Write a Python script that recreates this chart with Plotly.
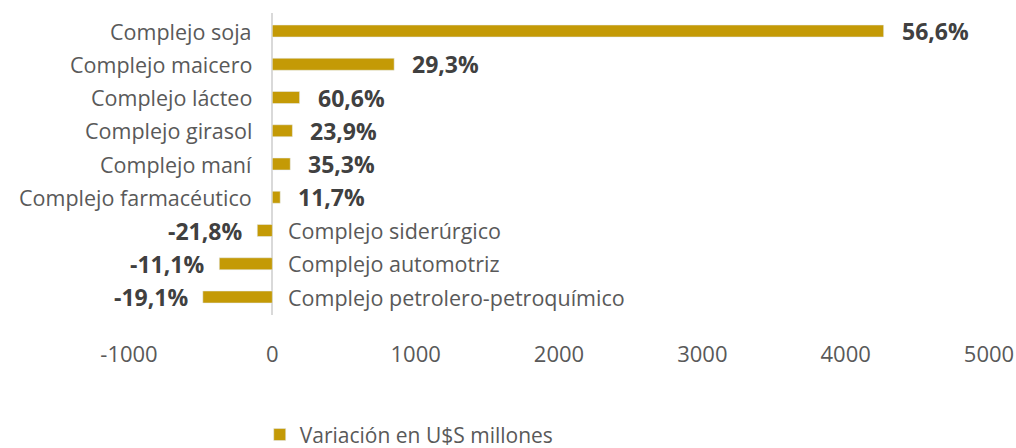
import plotly.graph_objects as go

categorias = ["Complejo soja", "Complejo maicero", "Complejo lácteo", "Complejo girasol",
              "Complejo maní", "Complejo farmacéutico", "Complejo siderúrgico",
              "Complejo automotriz", "Complejo petrolero-petroquímico"]
variacion = [4265, 850, 190, 140, 125, 55, -105, -370, -485]
etiquetas = ["56,6%", "29,3%", "60,6%", "23,9%", "35,3%", "11,7%", "-21,8%", "-11,1%", "-19,1%"]
ticks = [-1000, 0, 1000, 2000, 3000, 4000, 5000]

oro = "#C49A06"
fuente = "Open Sans"

fig = go.Figure()
fig.add_trace(go.Bar(x=variacion, y=categorias, orientation="h", width=0.36,
                     marker=dict(color=oro), name="Variación en U$S millones"))

# etiquetas de categoria y de porcentaje
for cat, v, lab in zip(categorias, variacion, etiquetas):
    if v >= 0:
        fig.add_annotation(x=0, y=cat, text=cat, showarrow=False, xanchor="right",
                           xshift=-18, font=dict(size=21.5, color="#595959", family=fuente))
        fig.add_annotation(x=v, y=cat, text="<b>" + lab + "</b>", showarrow=False,
                           xanchor="left", xshift=16, font=dict(size=23, color="#404040", family=fuente))
    else:
        fig.add_annotation(x=0, y=cat, text=cat, showarrow=False, xanchor="left",
                           xshift=14, font=dict(size=21.5, color="#595959", family=fuente))
        fig.add_annotation(x=v, y=cat, text="<b>" + lab + "</b>", showarrow=False,
                           xanchor="right", xshift=-13, font=dict(size=23, color="#404040", family=fuente))

fig.update_layout(
    width=1016, height=448,
    margin=dict(l=129, r=27, t=13, b=133, autoexpand=False),
    plot_bgcolor="white", paper_bgcolor="white",
    font=dict(family=fuente, color="#595959"),
    showlegend=True,
    legend=dict(orientation="h", x=0.152, y=-0.397, xanchor="left", yanchor="middle",
                font=dict(size=21, color="#595959")),
    xaxis=dict(range=[-1000, 5000], tickvals=ticks, ticktext=[str(t) for t in ticks],
               showgrid=False, zeroline=True, zerolinecolor="#D9D9D9", zerolinewidth=2,
               tickfont=dict(size=22, color="#595959"), ticklabelstandoff=24,
               automargin=False),
    yaxis=dict(autorange="reversed", showticklabels=False, showgrid=False),
)

# sin margen del body para que la figura ocupe toda la ventana
fig.write_html("out.html", config={"displayModeBar": False},
               post_script="document.body.style.margin='0';document.body.style.overflow='hidden';")
